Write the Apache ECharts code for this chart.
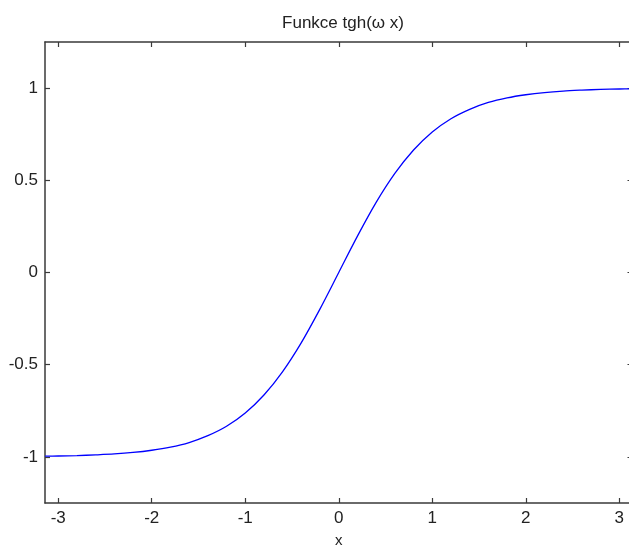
<!DOCTYPE html>
<html>
<head>
<meta charset="utf-8">
<script src="https://cdn.jsdelivr.net/npm/echarts@6/dist/echarts.min.js"></script>
<style>
  html, body { margin: 0; padding: 0; background: #fff; }
  #chart { width: 629px; height: 546px; }
</style>
</head>
<body>
<div id="chart"></div>
<script>
// Sampled curve of the hyperbolic tangent over [-pi, pi]
const xs = [-3.14, -3.0, -2.8, -2.6, -2.4, -2.2, -2.0, -1.8, -1.6, -1.4, -1.2, -1.0, -0.8, -0.6, -0.4, -0.2,
            0.0, 0.2, 0.4, 0.6, 0.8, 1.0, 1.2, 1.4, 1.6, 1.8, 2.0, 2.2, 2.4, 2.6, 2.8, 3.0, 3.14];
const ys = [-0.996, -0.995, -0.993, -0.989, -0.984, -0.976, -0.964, -0.947, -0.922, -0.885, -0.834, -0.762, -0.664, -0.537, -0.380, -0.197,
            0.0, 0.197, 0.380, 0.537, 0.664, 0.762, 0.834, 0.885, 0.922, 0.947, 0.964, 0.976, 0.984, 0.989, 0.993, 0.995, 0.996];
const xTicks = [-3, -2, -1, 0, 1, 2, 3];
const yTicks = [-1, -0.5, 0, 0.5, 1];
const xRange = [-3.14159, 3.14159];
const yRange = [-1.25, 1.25];

const font = '"Liberation Sans", Arial, sans-serif';
const axisColor = '#3a3a3a';

const chart = echarts.init(document.getElementById('chart'), null, { renderer: 'canvas' });

function xAx(pos, showLabels) {
  return {
    type: 'value', position: pos, min: xRange[0], max: xRange[1],
    axisLine: { show: true, onZero: false, lineStyle: { color: axisColor, width: 1.5 } },
    axisTick: { show: true, inside: true, length: 5, customValues: xTicks, lineStyle: { color: axisColor, width: 1.2 } },
    axisLabel: { show: showLabels, customValues: xTicks, margin: 7, color: '#222', fontFamily: font, fontSize: 17 },
    splitLine: { show: false },
    name: showLabels ? 'x' : '', nameLocation: 'middle', nameGap: 30,
    nameTextStyle: { color: '#222', fontFamily: font, fontSize: 15 }
  };
}
function yAx(pos, showLabels) {
  return {
    type: 'value', position: pos, min: yRange[0], max: yRange[1],
    axisLine: { show: true, onZero: false, lineStyle: { color: axisColor, width: 1.5 } },
    axisTick: { show: true, inside: true, length: 5, customValues: yTicks, lineStyle: { color: axisColor, width: 1.2 } },
    axisLabel: { show: showLabels, customValues: yTicks, margin: 7, color: '#222', fontFamily: font, fontSize: 17 },
    splitLine: { show: false }
  };
}

chart.setOption({
  animation: false,
  backgroundColor: '#fff',
  title: {
    text: 'Funkce tgh(ω x)', left: 338, top: 10, textAlign: 'center',
    textStyle: { color: '#222', fontFamily: font, fontSize: 17, fontWeight: 'normal' }
  },
  grid: { left: 45, top: 42, width: 587.5, height: 461, containLabel: false, outerBoundsMode: 'none' },
  xAxis: [xAx('bottom', true), xAx('top', false)],
  yAxis: [yAx('left', true), yAx('right', false)],
  series: [{
    type: 'line',
    data: xs.map((x, i) => [x, ys[i]]),
    showSymbol: false,
    smooth: 0.3,
    lineStyle: { color: '#0000ff', width: 1.3 },
    clip: true
  }]
});
</script>
</body>
</html>
